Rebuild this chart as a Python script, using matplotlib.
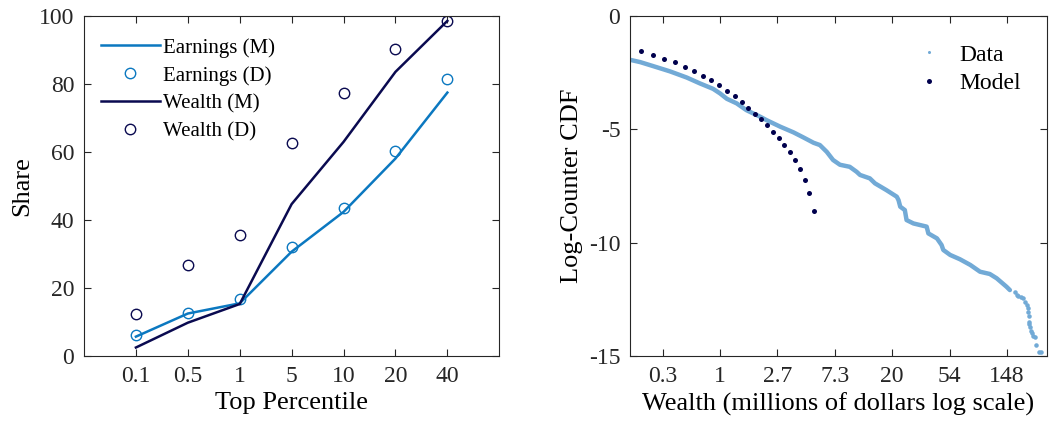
import numpy as np
import matplotlib.pyplot as plt
from matplotlib.lines import Line2D

plt.rcParams['font.family'] = ['Liberation Serif', 'DejaVu Serif']
plt.rcParams['mathtext.fontset'] = 'stix'

# left panel: top shares
percentiles = ['0.1', '0.5', '1', '5', '10', '20', '40']
earn_model = [5.7, 12.5, 15.5, 30.7, 42.4, 58.1, 77.5]
earn_data = [6.2, 12.7, 16.8, 32.0, 43.5, 60.3, 81.6]
wealth_model = [2.5, 9.8, 15.3, 44.7, 63.0, 83.6, 98.6]
wealth_data = [12.5, 26.8, 35.6, 62.7, 77.5, 90.3, 98.6]

# right panel: log counter cdf vs log wealth
model_lnw = [-1.381, -1.173, -0.976, -0.784, -0.616, -0.447, -0.29, -0.151, -0.012,
             0.128, 0.256, 0.378, 0.494, 0.61, 0.72, 0.819, 0.923, 1.022, 1.115,
             1.214, 1.301, 1.388, 1.475, 1.556, 1.638]
model_cdf = [-1.544, -1.706, -1.882, -2.044, -2.235, -2.41, -2.632, -2.838, -3.058,
             -3.294, -3.529, -3.779, -4.044, -4.309, -4.544, -4.824, -5.103, -5.382,
             -5.691, -6.015, -6.368, -6.765, -7.235, -7.794, -8.617]

data_lnw = [-1.60, -1.39, -1.16, -0.87, -0.58, -0.35, -0.12, 0.00, 0.12, 0.29, 0.46,
            0.70, 0.81, 1.05, 1.28, 1.45, 1.63, 1.74, 1.86, 1.97, 2.09, 2.26, 2.38,
            2.44, 2.61, 2.70, 2.90, 3.08, 3.11, 3.14, 3.22, 3.25, 3.37, 3.60, 3.63,
            3.78, 3.86, 3.89, 4.01, 4.18, 4.36, 4.53, 4.70, 4.82, 4.99, 5.05]
data_cdf = [-1.91, -2.03, -2.21, -2.44, -2.71, -2.97, -3.21, -3.41, -3.65, -3.85, -4.15,
            -4.44, -4.59, -4.88, -5.13, -5.35, -5.59, -5.69, -5.99, -6.35, -6.56, -6.65,
            -6.87, -7.01, -7.16, -7.38, -7.68, -7.97, -8.12, -8.41, -8.56, -9.00, -9.15,
            -9.29, -9.59, -9.81, -10.10, -10.32, -10.54, -10.73, -10.98, -11.28, -11.38,
            -11.57, -11.94, -12.09]
tail_lnw = [5.14, 5.17, 5.20, 5.24, 5.28, 5.31, 5.34, 5.36, 5.37, 5.38, 5.39, 5.39,
            5.40, 5.42, 5.43, 5.46, 5.49, 5.51, 5.55, 5.59]
tail_cdf = [-12.16, -12.31, -12.35, -12.40, -12.45, -12.60, -12.75, -12.90, -13.04,
            -13.25, -13.48, -13.60, -13.71, -13.90, -14.00, -14.10, -14.15, -14.51,
            -14.81, -14.81]
wealth_ticks = [-1, 0, 1, 2, 3, 4, 5]
wealth_labels = ['0.3', '1', '2.7', '7.3', '20', '54', '148']

c_earn = '#0b78c0'
c_wealth = '#0a0a50'
c_data = '#72aad6'
c_model = '#00004d'
spine_c = '#262626'

fig = plt.figure(figsize=(10.54, 4.33), dpi=100)
ax1 = fig.add_axes([0.0797, 0.1778, 0.394, 0.785])
ax2 = fig.add_axes([0.5977, 0.1778, 0.3953, 0.785])

xpos = np.arange(1, len(percentiles) + 1)
ax1.plot(xpos, earn_model, color=c_earn, lw=1.8, label='Earnings (M)')
ax1.plot(xpos, earn_data, 'o', mfc='none', mec=c_earn, ms=7.5, mew=1.0, label='Earnings (D)')
ax1.plot(xpos, wealth_model, color=c_wealth, lw=1.8, label='Wealth (M)')
ax1.plot(xpos, wealth_data, 'o', mfc='none', mec=c_wealth, ms=7.5, mew=1.0, label='Wealth (D)')
ax1.set_xlim(0, 8)
ax1.set_ylim(0, 100)
ax1.set_xticks(xpos)
ax1.set_xticklabels(percentiles)
ax1.set_yticks([0, 20, 40, 60, 80, 100])
ax1.set_xlabel('Top Percentile', fontsize=19)
ax1.set_ylabel('Share', fontsize=19)
ax1.legend(loc='upper left', frameon=False, fontsize=15, handlelength=2.85,
           handletextpad=0.15, labelspacing=0.4, borderaxespad=0.4,
           bbox_to_anchor=(0.0, 0.985))

ax2.plot(data_lnw, data_cdf, '-', color=c_data, lw=3.2, solid_capstyle='round')
ax2.plot(tail_lnw, tail_cdf, '.', color=c_data, ms=4.5)
ax2.plot(model_lnw, model_cdf, 'o', color=c_model, ms=3.6, mew=0)
ax2.set_xlim(-1.568, 5.69)
ax2.set_ylim(-15, 0)
ax2.set_xticks(wealth_ticks)
ax2.set_xticklabels(wealth_labels)
ax2.set_yticks([-15, -10, -5, 0])
ax2.set_yticklabels(['-15', '-10', '-5', '0'])
ax2.set_xlabel('Wealth (millions of dollars log scale)', fontsize=19)
ax2.set_ylabel('Log-Counter CDF', fontsize=19)
handles = [Line2D([], [], ls='none', marker='o', ms=2.2, mew=0, color=c_data),
           Line2D([], [], ls='none', marker='o', ms=3.6, mew=0, color=c_model)]
ax2.legend(handles, ['Data', 'Model'], loc='upper right', frameon=False, fontsize=17,
           handlelength=2.0, handletextpad=0.3, labelspacing=0.3,
           bbox_to_anchor=(0.99, 0.98))

for ax in (ax1, ax2):
    ax.tick_params(direction='in', top=True, right=True, length=5, width=0.8,
                   labelsize=17, colors=spine_c, pad=7)
    for s in ax.spines.values():
        s.set_color(spine_c)
        s.set_linewidth(0.8)

fig.savefig('out.png', dpi=100)
